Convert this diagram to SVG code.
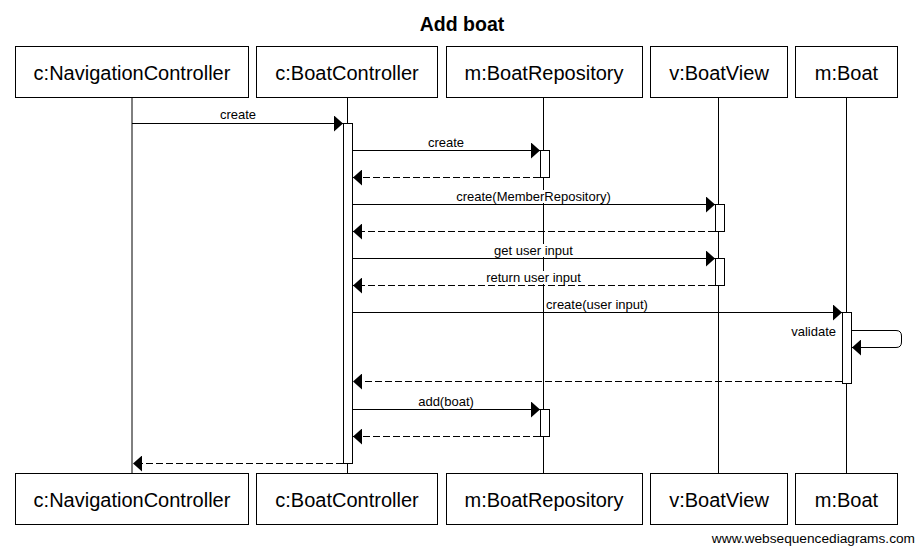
<svg xmlns="http://www.w3.org/2000/svg" width="922" height="547" viewBox="0 0 922 547">
<style>
.box{fill:#fff;stroke:#000;stroke-width:1}
.life{stroke:#000;stroke-width:1;fill:none}
.act{fill:#fff;stroke:#000;stroke-width:1}
.msg{stroke:#000;stroke-width:1;fill:none}
.ret{stroke:#000;stroke-width:1;fill:none;stroke-dasharray:7,3}
.pt{font-family:"Liberation Sans",Arial,sans-serif;font-size:20px;text-anchor:middle;fill:#000}
.ml{font-family:"Liberation Sans",Arial,sans-serif;font-size:13px;text-anchor:middle;fill:#000}
.bg{fill:#fff;stroke:none}
.ah{fill:#000}
</style>
<defs>
<marker id="arr" markerWidth="9" markerHeight="16" refX="9" refY="8" orient="auto" markerUnits="userSpaceOnUse"><path d="M0,0 L9,8 L0,16 Z" class="ah"/></marker>
</defs>
<rect width="922" height="547" fill="#fff"/>
<text x="462" y="31" font-family="Liberation Sans,Arial,sans-serif" font-size="19.5" font-weight="bold" text-anchor="middle">Add boat</text>

<g id="lifelines">
<line class="life" x1="132" y1="97" x2="132" y2="473"/>
<line class="life" x1="347.5" y1="97" x2="347.5" y2="473"/>
<line class="life" x1="543.5" y1="97" x2="543.5" y2="473"/>
<line class="life" x1="718.5" y1="97" x2="718.5" y2="473"/>
<line class="life" x1="846.5" y1="97" x2="846.5" y2="473"/>
</g>

<g id="activations">
<rect class="act" x="343.5" y="123.5" width="9" height="340"/>
<rect class="act" x="540.5" y="150.5" width="9" height="27"/>
<rect class="act" x="715.5" y="204.5" width="9" height="27"/>
<rect class="act" x="715.5" y="258.5" width="9" height="27"/>
<rect class="act" x="842.5" y="312.5" width="9" height="71"/>
<rect class="act" x="540.5" y="409.5" width="9" height="27"/>
</g>

<g id="connectors">
<line class="msg" x1="132" y1="123.5" x2="343" y2="123.5" marker-end="url(#arr)"/>
<text class="ml" x="238" y="119">create</text>
<line class="msg" x1="352" y1="150.5" x2="540" y2="150.5" marker-end="url(#arr)"/>
<text class="ml" x="446" y="147">create</text>
<line class="ret" x1="540" y1="177.5" x2="353" y2="177.5" marker-end="url(#arr)"/>
<line class="msg" x1="352" y1="204.5" x2="715" y2="204.5" marker-end="url(#arr)"/>
<rect class="bg" x="456" y="190" width="155" height="13"/>
<text class="ml" x="533.5" y="201">create(MemberRepository)</text>
<line class="ret" x1="715" y1="231.5" x2="353" y2="231.5" marker-end="url(#arr)"/>
<line class="msg" x1="352" y1="258.5" x2="715" y2="258.5" marker-end="url(#arr)"/>
<rect class="bg" x="494" y="244" width="79" height="13"/>
<text class="ml" x="533.5" y="255">get user input</text>
<line class="ret" x1="715" y1="285.5" x2="353" y2="285.5" marker-end="url(#arr)"/>
<rect class="bg" x="486" y="271" width="95" height="13"/>
<text class="ml" x="533.5" y="282">return user input</text>
<line class="msg" x1="352" y1="312.5" x2="842" y2="312.5" marker-end="url(#arr)"/>
<rect class="bg" x="546" y="298" width="102" height="13"/>
<text class="ml" x="597" y="309">create(user input)</text>
<path class="msg" d="M852,330.5 H896 Q901.5,330.5 901.5,336 V342 Q901.5,347.5 896,347.5 H852" marker-end="url(#arr)"/>
<text class="ml" x="836" y="336" style="text-anchor:end">validate</text>
<line class="ret" x1="842" y1="381.5" x2="353" y2="381.5" marker-end="url(#arr)"/>
<line class="msg" x1="352" y1="409.5" x2="540" y2="409.5" marker-end="url(#arr)"/>
<text class="ml" x="446" y="406">add(boat)</text>
<line class="ret" x1="540" y1="436.5" x2="353" y2="436.5" marker-end="url(#arr)"/>
<line class="ret" x1="343" y1="463.5" x2="133" y2="463.5" marker-end="url(#arr)"/>
</g>

<g id="p-nav-top"><rect class="box" x="15.5" y="46.5" width="233" height="51"/><text class="pt" x="132" y="80">c:NavigationController</text></g>
<g id="p-bc-top"><rect class="box" x="256.5" y="46.5" width="181" height="51"/><text class="pt" x="347" y="80">c:BoatController</text></g>
<g id="p-br-top"><rect class="box" x="446.5" y="46.5" width="196" height="51"/><text class="pt" x="544" y="80">m:BoatRepository</text></g>
<g id="p-bv-top"><rect class="box" x="650.5" y="46.5" width="137" height="51"/><text class="pt" x="719" y="80">v:BoatView</text></g>
<g id="p-boat-top"><rect class="box" x="795.5" y="46.5" width="102" height="51"/><text class="pt" x="846.5" y="80">m:Boat</text></g>

<g id="p-nav-bot"><rect class="box" x="15.5" y="473.5" width="233" height="51"/><text class="pt" x="132" y="507">c:NavigationController</text></g>
<g id="p-bc-bot"><rect class="box" x="256.5" y="473.5" width="181" height="51"/><text class="pt" x="347" y="507">c:BoatController</text></g>
<g id="p-br-bot"><rect class="box" x="446.5" y="473.5" width="196" height="51"/><text class="pt" x="544" y="507">m:BoatRepository</text></g>
<g id="p-bv-bot"><rect class="box" x="650.5" y="473.5" width="137" height="51"/><text class="pt" x="719" y="507">v:BoatView</text></g>
<g id="p-boat-bot"><rect class="box" x="795.5" y="473.5" width="102" height="51"/><text class="pt" x="846.5" y="507">m:Boat</text></g>

<text x="915" y="543" font-family="Liberation Sans,Arial,sans-serif" font-size="13.7" text-anchor="end">www.websequencediagrams.com</text>
</svg>
